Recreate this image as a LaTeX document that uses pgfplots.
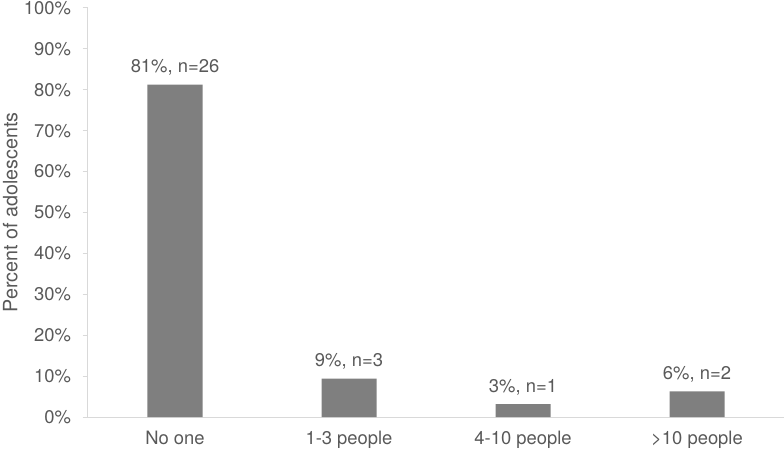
\documentclass[border=0pt]{standalone}
\usepackage{pgfplots}
\pgfplotsset{compat=1.18}
\usepackage{fontspec}
\setmainfont{TeX Gyre Heros}
\definecolor{barc}{HTML}{7F7F7F}
\definecolor{axc}{HTML}{D9D9D9}
\definecolor{txt}{HTML}{595959}
\begin{document}
\fontsize{13.8pt}{16pt}\selectfont
\begin{tikzpicture}
\begin{axis}[
  at={(0,0)}, anchor=south west,
  scale only axis,
  width=522pt, height=306.75pt,
  xmin=-0.5, xmax=3.5, ymin=0, ymax=100,
  axis x line*=bottom, axis y line*=left,
  axis line style={draw=axc, line width=0.75pt},
  xtick={0,1,2,3},
  xticklabels={No one,1-3 people,4-10 people,>10 people},
  major x tick style={draw=none},
  ytick={0,10,...,100},
  yticklabel={\pgfmathprintnumber{\tick}\%},
  /pgf/number format/assume math mode=true,
  y tick style={draw=axc, line width=0.75pt},
  tick align=outside, major tick length=4pt,
  ticklabel style={font=\fontsize{13.8pt}{16pt}\selectfont, text=txt},
  yticklabel style={xshift=-4pt},
  xticklabel style={yshift=-2pt},
  ylabel={Percent of adolescents},
  ylabel style={font=\fontsize{14.8pt}{16pt}\selectfont, text=txt, at={(axis description cs:0,0.5)}, anchor=south, yshift=48pt},
  ybar, bar width=41.25pt,
  nodes near coords,
  point meta=explicit symbolic,
  every node near coord/.append style={font=\fontsize{13.8pt}{16pt}\selectfont, text=txt, yshift=2pt},
  clip=false,
]
\addplot[fill=barc, draw=none] coordinates {
  (0,81.25) [{81\%, n=26}]
  (1,9.375) [{9\%, n=3}]
  (2,3.125) [{3\%, n=1}]
  (3,6.25) [{6\%, n=2}]
};
\end{axis}
\pgfresetboundingbox
\path (-66pt,-24.75pt) rectangle (522pt,312.75pt);
\end{tikzpicture}
\end{document}
